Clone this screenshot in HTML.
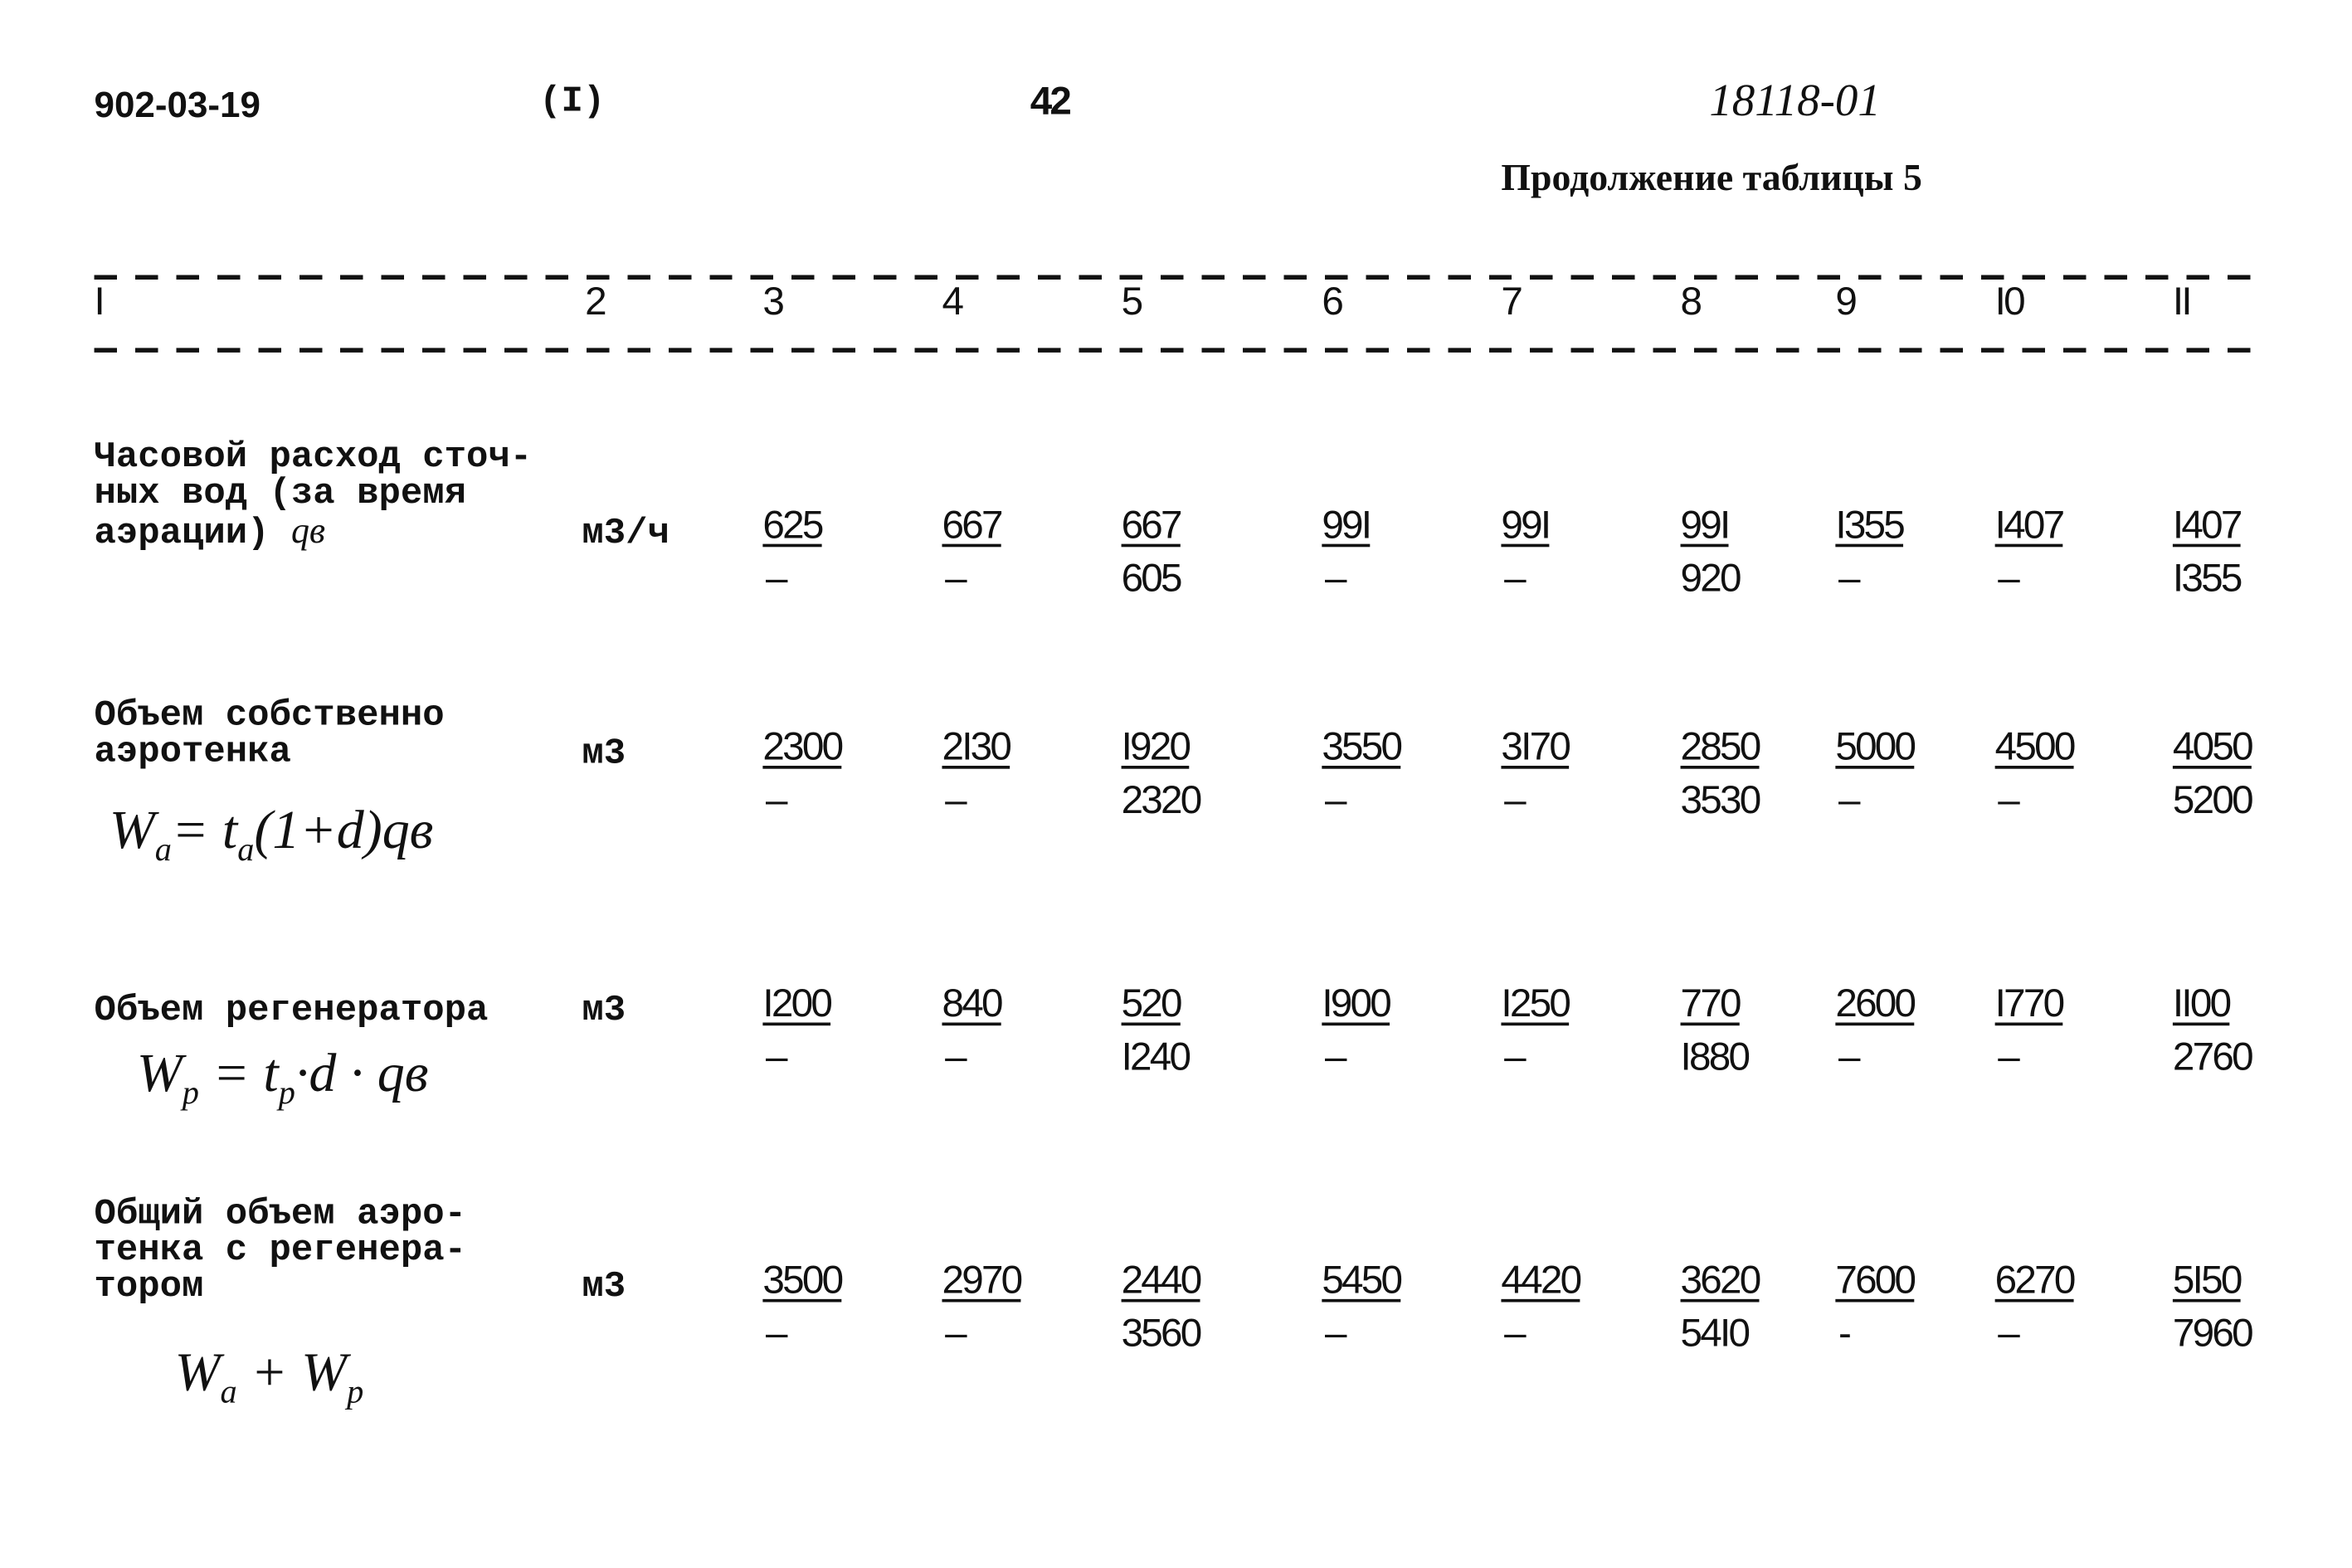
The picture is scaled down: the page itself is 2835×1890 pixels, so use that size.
<!DOCTYPE html>
<html><head><meta charset="utf-8"><style>
html,body{margin:0;padding:0;background:#fff;width:2835px;height:1890px;overflow:hidden}
#p{position:absolute;left:0;top:0;width:1548px;height:1032px;transform:scale(1.8314);transform-origin:0 0;color:#111;font-family:"Liberation Mono",monospace;font-weight:bold}
.t{position:absolute;white-space:nowrap;line-height:24px;font-size:24px}
.n{position:absolute;white-space:nowrap;font-family:"Liberation Sans",sans-serif;font-weight:normal;font-size:26px;line-height:28px;letter-spacing:-1.5px}
.u{text-decoration:underline;text-decoration-thickness:2px;text-underline-offset:4px}
.d{position:absolute;left:62px;width:1428px;height:3px;background:repeating-linear-gradient(90deg,#111 0 15px,transparent 15px 27px)}
.h{position:absolute;font-family:"Liberation Serif",serif;font-style:italic;font-weight:normal;font-size:36px;white-space:nowrap}
</style></head><body><div id="p">
<div class="t" style="left:62px;top:58px;font-family:'Liberation Sans',sans-serif;font-size:24px">902-03-19</div>
<div class="t" style="left:355px;top:56px">(I)</div>
<div class="n" style="left:678px;top:52px;font-weight:bold">42</div>
<div class="h" style="left:1125px;top:50px;font-size:30px">18118-01</div>
<div class="t" style="left:988px;top:106px;font-family:'Liberation Serif',serif;font-size:25px">Продолжение таблицы 5</div>
<div class="d" style="top:181px"></div>
<div class="d" style="top:229px"></div>
<div class="n" style="left:62px;top:184px">I</div>
<div class="n" style="left:385px;top:184px">2</div>
<div class="n" style="left:502px;top:184px">3</div>
<div class="n" style="left:620px;top:184px">4</div>
<div class="n" style="left:738px;top:184px">5</div>
<div class="n" style="left:870px;top:184px">6</div>
<div class="n" style="left:988px;top:184px">7</div>
<div class="n" style="left:1106px;top:184px">8</div>
<div class="n" style="left:1208px;top:184px">9</div>
<div class="n" style="left:1313px;top:184px">I0</div>
<div class="n" style="left:1430px;top:184px">II</div>

<div class="t" style="left:62px;top:290px">Часовой расход сточ-<br>ных вод (за время<br>аэрации) <i style="font-family:'Liberation Serif',serif;font-weight:normal">qв</i></div>
<div class="t" style="left:383px;top:340px">м3/ч</div>

<div class="t" style="left:62px;top:460px">Объем собственно<br>аэротенка</div>
<div class="h" style="left:72px;top:525px">W<sub style="font-size:22px">a</sub>= t<sub style="font-size:22px">a</sub>(1+d)qв</div>
<div class="t" style="left:383px;top:485px">м3</div>

<div class="t" style="left:62px;top:654px">Объем регенератора</div>
<div class="h" style="left:90px;top:685px">W<sub style="font-size:22px">p</sub> = t<sub style="font-size:22px">p</sub>·d · qв</div>
<div class="t" style="left:383px;top:654px">м3</div>

<div class="t" style="left:62px;top:788px">Общий объем аэро-<br>тенка с регенера-<br>тором</div>
<div class="h" style="left:115px;top:882px">W<sub style="font-size:22px">a</sub> + W<sub style="font-size:22px">p</sub></div>
<div class="t" style="left:383px;top:836px">м3</div>

<div id="vals"></div>
</div>
<script>
var xs=[502,620,738,870,988,1106,1208,1313,1430];
var rows=[[331,["625","667","667","99I","99I","99I","I355","I407","I407"],["–","–","605","–","–","920","–","–","I355"]],
[477,["2300","2I30","I920","3550","3I70","2850","5000","4500","4050"],["–","–","2320","–","–","3530","–","–","5200"]],
[646,["I200","840","520","I900","I250","770","2600","I770","II00"],["–","–","I240","–","–","I880","–","–","2760"]],
[828,["3500","2970","2440","5450","4420","3620","7600","6270","5I50"],["–","–","3560","–","–","54I0","-","–","7960"]]];
var h="";
rows.forEach(function(r){for(var i=0;i<9;i++){
h+='<div class="n u" style="left:'+xs[i]+'px;top:'+r[0]+'px">'+r[1][i]+'</div>';
var b=r[2][i];var dash=(b=="–"||b=="-");
h+='<div class="n" style="left:'+(dash?xs[i]+2:xs[i])+'px;top:'+(r[0]+35)+'px">'+b+'</div>';}});
document.getElementById("vals").outerHTML=h;
</script>
</body></html>
